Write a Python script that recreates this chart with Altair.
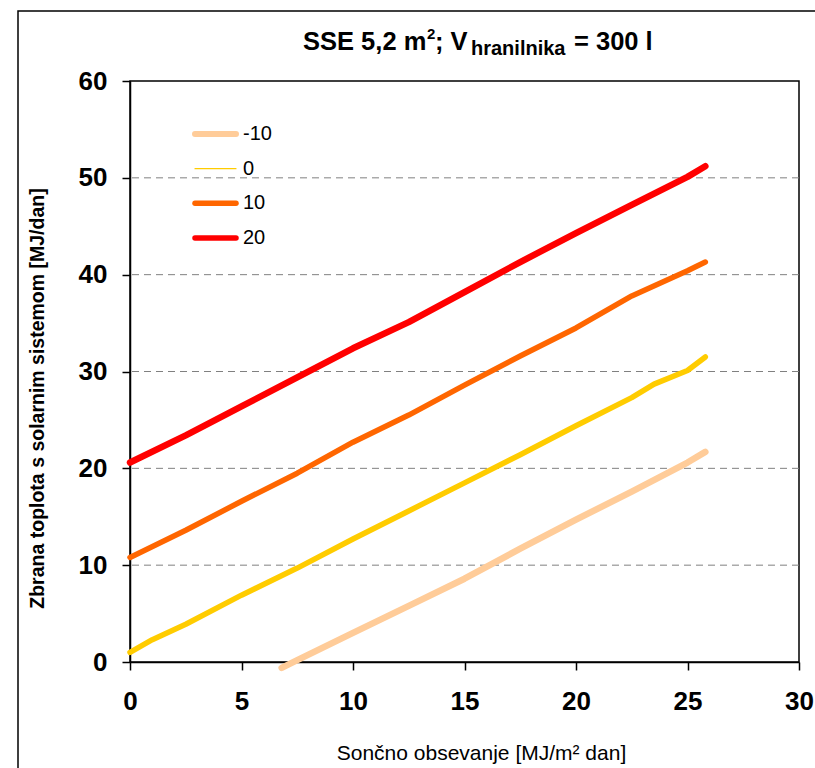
import altair as alt
import pandas as pd

# ---------------- data ----------------
series_order = ["-10", "0", "10", "20"]
series_colors = ["#FFCC99", "#FFCC00", "#FF6600", "#FF0000"]

x_m10 = [6.8, 7.5, 10, 12.5, 15, 17.5, 20, 22.5, 25, 25.8]
y_m10 = [-0.6, 0.2, 3.0, 5.8, 8.6, 11.7, 14.7, 17.6, 20.6, 21.7]

x_0 = [0, 1, 2.5, 5, 7.5, 10, 12.5, 15, 17.5, 20, 22.5, 23.5, 25, 25.8]
y_0 = [1.0, 2.3, 3.9, 6.9, 9.7, 12.7, 15.6, 18.5, 21.4, 24.4, 27.3, 28.7, 30.1, 31.5]

x_10 = [0, 2.5, 5, 7.5, 10, 12.5, 15, 17.5, 20, 22.5, 25, 25.8]
y_10 = [10.8, 13.6, 16.6, 19.5, 22.7, 25.5, 28.6, 31.6, 34.5, 37.8, 40.4, 41.3]

x_20 = [0, 2.5, 5, 7.5, 10, 12.5, 15, 17.5, 20, 22.5, 25, 25.8]
y_20 = [20.6, 23.4, 26.4, 29.4, 32.4, 35.1, 38.2, 41.3, 44.3, 47.2, 50.1, 51.2]

x_ticks = [0, 5, 10, 15, 20, 25, 30]
y_ticks = [0, 10, 20, 30, 40, 50, 60]
grid_values = [10, 20, 30, 40, 50]

title_parts = ["SSE 5,2 m", "2", "; V", "hranilnika", "= 300 l"]
x_title = "Sončno obsevanje [MJ/m² dan]"
y_title = "Zbrana toplota s solarnim sistemom [MJ/dan]"

# ---------------- tables ----------------
rows = []
for name, xs, ys in [("-10", x_m10, y_m10), ("0", x_0, y_0), ("10", x_10, y_10), ("20", x_20, y_20)]:
    for xv, yv in zip(xs, ys):
        rows.append({"x": xv, "y": yv, "series": name})
df = pd.DataFrame(rows)
grid_df = pd.DataFrame({"y": grid_values})
legend_df = pd.DataFrame({"series": series_order})

FONT = "Liberation Sans"
W, H = 669, 581

x_scale = alt.Scale(domain=[0, 30], nice=False, zero=False)
y_scale = alt.Scale(domain=[0, 60], nice=False, zero=False)
color_scale = alt.Scale(domain=series_order, range=series_colors)

x_axis = alt.Axis(values=x_ticks, title=x_title, labelFont=FONT, labelFontSize=26,
                  labelFontWeight="bold", labelColor="black", labelPadding=18,
                  labelFlush=False, labelOverlap=False, tickSize=8, tickColor="black",
                  tickWidth=1.5, domainColor="black", domainWidth=1.5, grid=False,
                  titleFont=FONT, titleFontSize=21, titleFontWeight="normal",
                  titleColor="black", titleX=351, titleY=91, titleBaseline="middle",
                  titleAlign="center")
y_axis = alt.Axis(values=y_ticks, title=y_title, labelFont=FONT, labelFontSize=26,
                  labelFontWeight="bold", labelColor="black", labelPadding=15,
                  labelOverlap=False, tickSize=8, tickColor="black", tickWidth=1.5,
                  domainColor="black", domainWidth=1.5, grid=False,
                  titleFont=FONT, titleFontSize=19.5, titleFontWeight="bold",
                  titleColor="black", titleAngle=270, titleX=-93, titleY=317,
                  titleBaseline="middle", titleAlign="center")

line_width_expr = "datum.series == '0' ? 5.5 : (datum.series == '10' ? 5.5 : 6.5)"
legend_width_expr = "datum.series == '0' ? 1.2 : (datum.series == '-10' ? 6 : 5.5)"

grid = alt.Chart(grid_df).mark_rule(color="#808080", strokeDash=[7, 5], strokeWidth=1).encode(
    y=alt.Y("y:Q", scale=y_scale, axis=y_axis)
)

lines = alt.Chart(df).transform_calculate(sw=line_width_expr).mark_line(
    strokeCap="round", strokeJoin="round", clip=False
).encode(
    x=alt.X("x:Q", scale=x_scale, axis=x_axis),
    y=alt.Y("y:Q", scale=y_scale, axis=y_axis),
    color=alt.Color("series:N", sort=series_order, scale=color_scale, legend=None),
    strokeWidth=alt.StrokeWidth("sw:Q", scale=None),
    detail="series:N",
)

one = alt.Data(values=[{"k": 1}])

border = alt.Chart(one).mark_rect(fillOpacity=0, stroke="black", strokeWidth=1.5).encode(
    x=alt.value(-112), x2=alt.value(700), y=alt.value(-70), y2=alt.value(700)
)

def tpart(text, x, y, size):
    return alt.Chart(one).mark_text(text=text, font=FONT, fontSize=size, fontWeight="bold",
                                    align="left", baseline="alphabetic", color="black").encode(
        x=alt.value(x), y=alt.value(y)
    )

t1 = tpart(title_parts[0], 173, -31, 25.5)
t2 = tpart(title_parts[1], 297, -42, 15)
t3 = tpart(title_parts[2], 305, -31, 25.5)
t4 = tpart(title_parts[3], 341, -26, 20)
t5 = tpart(title_parts[4], 444, -31, 25.5)

# ---------------- legend (drawn as marks, own row scale) ----------------
leg_y = alt.Y("series:N", sort=series_order,
              scale=alt.Scale(type="point", domain=series_order, range=[53, 157],
                              padding=0, paddingOuter=0),
              axis=None)

leg_rules = alt.Chart(legend_df).transform_calculate(sw=legend_width_expr).mark_rule(
    strokeCap="round"
).encode(
    x=alt.value(65), x2=alt.value(106),
    y=leg_y,
    color=alt.Color("series:N", sort=series_order, scale=color_scale, legend=None),
    strokeWidth=alt.StrokeWidth("sw:Q", scale=None),
)
leg_text = alt.Chart(legend_df).mark_text(
    align="left", baseline="middle", font=FONT, fontSize=20, color="black"
).encode(
    x=alt.value(113), y=leg_y, text="series:N"
)

main = alt.layer(border, grid, lines, t1, t2, t3, t4, t5)
leg = alt.layer(leg_rules, leg_text)

chart = alt.layer(main, leg).resolve_scale(y="independent").properties(
    width=W, height=H,
    autosize=alt.AutoSizeParams(type="none"),
    padding={"left": 130, "top": 81, "right": 16, "bottom": 106},
    background="white",
).configure_view(stroke="black", strokeWidth=1.5)

chart.save("out.html", embed_options={"renderer": "svg", "actions": False})
